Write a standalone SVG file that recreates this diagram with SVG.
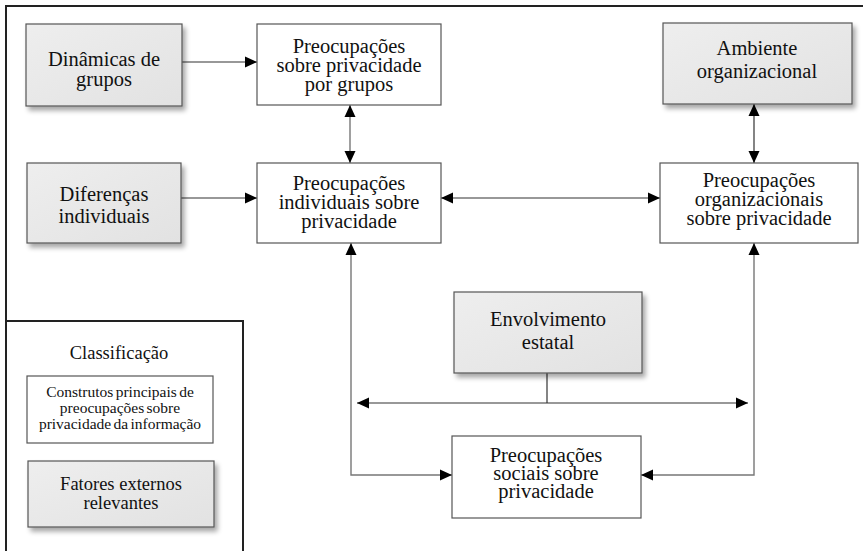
<svg xmlns="http://www.w3.org/2000/svg" width="867" height="551" viewBox="0 0 867 551">
<style>
text{font-family:"Liberation Serif","Times New Roman",serif;fill:#111;text-anchor:middle}
.t{font-size:20.5px}
.s{font-size:15.5px;word-spacing:-1.5px}
.l{font-size:18.5px}
.w{fill:#fff;stroke:#555;stroke-width:1.2}
.g{fill:url(#gg);stroke:#555;stroke-width:1.2;filter:url(#sh)}
.c{fill:none;stroke:#333;stroke-width:1.2}
.cv{fill:none;stroke:#777;stroke-width:1.4}
.f{fill:none;stroke:#222;stroke-width:2}
</style>
<defs>
<linearGradient id="gg" x1="0" y1="0" x2="1" y2="1">
<stop offset="0" stop-color="#eeeeee"/>
<stop offset="1" stop-color="#e2e2e2"/>
</linearGradient>
<filter id="sh" x="-10%" y="-10%" width="125%" height="135%">
<feGaussianBlur in="SourceAlpha" stdDeviation="2.5"/>
<feOffset dx="3" dy="4" result="b"/>
<feComponentTransfer><feFuncA type="linear" slope="0.35"/></feComponentTransfer>
<feMerge><feMergeNode/><feMergeNode in="SourceGraphic"/></feMerge>
</filter>
<marker id="a" markerUnits="userSpaceOnUse" markerWidth="12" markerHeight="12" viewBox="0 0 12 12" refX="12" refY="6" orient="auto-start-reverse">
<path d="M0,0.5 L12,6 L0,11.5 z" fill="#000"/>
</marker>
</defs>

<g id="frame">
<path class="f" d="M6,551 V6 H863"/>
</g>

<g id="connectors">
<line class="c" x1="182" y1="62" x2="257" y2="62" marker-end="url(#a)"/>
<line class="c" x1="181" y1="198" x2="257" y2="198" marker-end="url(#a)"/>
<line class="cv" x1="350" y1="105" x2="350" y2="163" marker-start="url(#a)" marker-end="url(#a)"/>
<line class="c" x1="754" y1="104" x2="754" y2="163" marker-start="url(#a)" marker-end="url(#a)"/>
<line class="c" x1="441" y1="198" x2="660" y2="198" marker-start="url(#a)" marker-end="url(#a)"/>
<line class="c" x1="547" y1="373" x2="547" y2="403"/>
<line class="c" x1="357" y1="403" x2="748" y2="403" marker-start="url(#a)" marker-end="url(#a)"/>
<path class="cv" d="M351,243 V475 H452" marker-start="url(#a)" marker-end="url(#a)"/>
<path class="cv" d="M754,243 V475 H641" marker-start="url(#a)" marker-end="url(#a)"/>
</g>

<g id="dinamicas">
<rect class="g" x="26" y="24" width="156" height="82"/>
<text class="t" x="104" y="66">Dinâmicas de</text>
<text class="t" x="104" y="86">grupos</text>
</g>

<g id="grupos">
<rect class="w" x="257" y="24" width="184" height="81"/>
<text class="t" x="349" y="53">Preocupações</text>
<text class="t" x="349" y="72">sobre privacidade</text>
<text class="t" x="349" y="91">por grupos</text>
</g>

<g id="ambiente">
<rect class="g" x="663" y="23" width="189" height="81"/>
<text class="t" x="757" y="55">Ambiente</text>
<text class="t" x="757" y="78">organizacional</text>
</g>

<g id="diferencas">
<rect class="g" x="27" y="163" width="154" height="80"/>
<text class="t" x="104" y="201">Diferenças</text>
<text class="t" x="104" y="223">individuais</text>
</g>

<g id="individuais">
<rect class="w" x="257" y="163" width="184" height="80"/>
<text class="t" x="349" y="190">Preocupações</text>
<text class="t" x="349" y="209">individuais sobre</text>
<text class="t" x="349" y="228">privacidade</text>
</g>

<g id="organizacionais">
<rect class="w" x="660" y="163" width="198" height="80"/>
<text class="t" x="759" y="187">Preocupações</text>
<text class="t" x="759" y="206">organizacionais</text>
<text class="t" x="759" y="225">sobre privacidade</text>
</g>

<g id="estatal">
<rect class="g" x="454" y="292" width="188" height="81"/>
<text class="t" x="548" y="326">Envolvimento</text>
<text class="t" x="548" y="349">estatal</text>
</g>

<g id="sociais">
<rect class="w" x="452" y="436" width="189" height="82"/>
<text class="t" x="546" y="462">Preocupações</text>
<text class="t" x="546" y="480">sociais sobre</text>
<text class="t" x="546" y="498">privacidade</text>
</g>

<g id="legenda">
<path class="f" d="M6,321 H243 V551"/>
<text class="l" x="119" y="359">Classificação</text>
<rect class="w" x="27" y="376" width="186" height="67"/>
<text class="s" x="120" y="397">Construtos principais de</text>
<text class="s" x="120" y="413">preocupações sobre</text>
<text class="s" x="120" y="429">privacidade da informação</text>
<rect class="g" x="28" y="461" width="186" height="66"/>
<text class="l" x="121" y="490">Fatores externos</text>
<text class="l" x="121" y="509">relevantes</text>
</g>
</svg>
